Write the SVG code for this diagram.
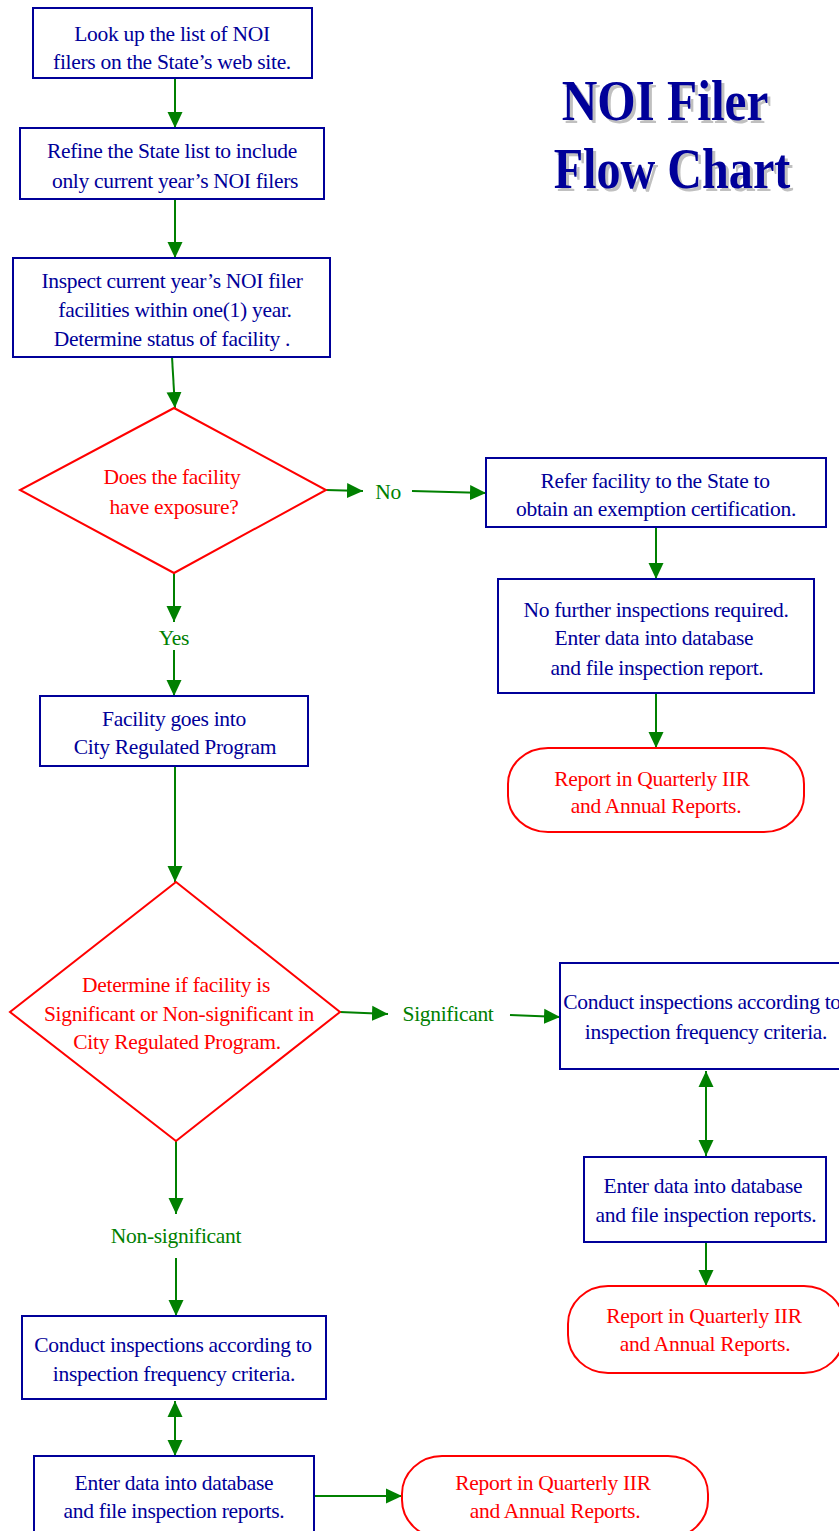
<svg xmlns="http://www.w3.org/2000/svg" width="839" height="1531" viewBox="0 0 839 1531">
  <style>
    .box { fill: #ffffff; stroke: #000099; stroke-width: 2; }
    .dec { fill: #ffffff; stroke: #ff0000; stroke-width: 2; }
    .rep { fill: #ffffff; stroke: #ff0000; stroke-width: 2; }
    .t { font-family: "Liberation Serif", "Times New Roman", serif; font-size: 21.5px; letter-spacing: -0.3px; text-anchor: middle; }
    .blue { fill: #000099; }
    .red { fill: #ff0000; }
    .green { fill: #008000; }
    .link { stroke: #008000; stroke-width: 2; fill: none; marker-end: url(#head); }
    .both { marker-start: url(#head); }
    .title { font-family: "Liberation Serif", "Times New Roman", serif; font-weight: bold; font-size: 58px; text-anchor: middle; }
  </style>
  <defs>
    <marker id="head" markerUnits="userSpaceOnUse" markerWidth="16" markerHeight="16" refX="16" refY="8" orient="auto-start-reverse" viewBox="0 0 16 16">
      <path d="M0,0.5 L16,8 L0,15.5 z" fill="#008000"/>
    </marker>
  </defs>
  <rect width="839" height="1531" fill="#ffffff"/>

  <!-- title: condensed bold serif with a grey drop shadow -->
  <g id="title">
    <g transform="translate(668,123) scale(0.85,1)">
      <text class="title" x="0" y="0" fill="#c0c0c0">NOI Filer</text>
    </g>
    <g transform="translate(675,191) scale(0.83,1)">
      <text class="title" x="0" y="0" fill="#c0c0c0">Flow Chart</text>
    </g>
    <g transform="translate(665,120) scale(0.85,1)">
      <text class="title" x="0" y="0" fill="#000099">NOI Filer</text>
    </g>
    <g transform="translate(672,188) scale(0.83,1)">
      <text class="title" x="0" y="0" fill="#000099">Flow Chart</text>
    </g>
  </g>

  <!-- connectors -->
  <g id="connectors">
    <line class="link" x1="175" y1="78" x2="175" y2="128"/>
    <line class="link" x1="175" y1="199" x2="175" y2="258"/>
    <line class="link" x1="172" y1="357" x2="175" y2="408"/>
    <line class="link" x1="326" y1="490" x2="363" y2="491"/>
    <line class="link" x1="412" y1="491" x2="486" y2="493"/>
    <line class="link" x1="656" y1="527" x2="656" y2="579"/>
    <line class="link" x1="656" y1="693" x2="656" y2="748"/>
    <line class="link" x1="174" y1="573" x2="174" y2="622"/>
    <line class="link" x1="174" y1="650" x2="174" y2="696"/>
    <line class="link" x1="175" y1="766" x2="175" y2="882"/>
    <line class="link" x1="340" y1="1012" x2="388" y2="1014"/>
    <line class="link" x1="510" y1="1015" x2="560" y2="1017"/>
    <line class="link both" x1="706" y1="1071" x2="706" y2="1156"/>
    <line class="link" x1="706" y1="1242" x2="706" y2="1286"/>
    <line class="link" x1="176" y1="1141" x2="176" y2="1214"/>
    <line class="link" x1="176" y1="1258" x2="176" y2="1316"/>
    <line class="link both" x1="175" y1="1401" x2="175" y2="1456"/>
    <line class="link" x1="314" y1="1496" x2="402" y2="1496"/>
    <text class="t green" x="388" y="499">No</text>
    <text class="t green" x="174" y="645">Yes</text>
    <text class="t green" x="448" y="1021">Significant</text>
    <text class="t green" x="176" y="1243">Non-significant</text>
  </g>

  <g id="lookup">
    <rect class="box" x="33" y="8" width="279" height="70"/>
    <text class="t blue" x="172" y="41">Look up the list of  NOI</text>
    <text class="t blue" x="172" y="69">filers on the State’s  web site.</text>
  </g>

  <g id="refine">
    <rect class="box" x="20" y="128" width="304" height="71"/>
    <text class="t blue" x="172" y="158">Refine the State list to include</text>
    <text class="t blue" x="175" y="188">only current year’s NOI filers</text>
  </g>

  <g id="inspect">
    <rect class="box" x="13" y="258" width="317" height="99"/>
    <text class="t blue" x="172" y="288">Inspect current year’s NOI  filer</text>
    <text class="t blue" x="175" y="317">facilities within one(1) year.</text>
    <text class="t blue" x="172" y="346">Determine status of facility .</text>
  </g>

  <g id="exposure">
    <polygon class="dec" points="174,408 326,490 174,573 20,490"/>
    <text class="t red" x="172" y="484">Does the facility</text>
    <text class="t red" x="174" y="514">have exposure?</text>
  </g>

  <g id="refer">
    <rect class="box" x="486" y="458" width="340" height="69"/>
    <text class="t blue" x="655" y="488">Refer  facility  to the  State to</text>
    <text class="t blue" x="656" y="516">obtain an exemption certification.</text>
  </g>

  <g id="nofurther">
    <rect class="box" x="498" y="579" width="316" height="114"/>
    <text class="t blue" x="656" y="617">No further inspections  required.</text>
    <text class="t blue" x="654" y="645">Enter data into database</text>
    <text class="t blue" x="657" y="675">and file inspection report.</text>
  </g>

  <g id="report1">
    <rect class="rep" x="508" y="748" width="296" height="84" rx="40" ry="36"/>
    <text class="t red" x="652" y="786">Report in Quarterly IIR</text>
    <text class="t red" x="656" y="813">and Annual Reports.</text>
  </g>

  <g id="regulated">
    <rect class="box" x="40" y="696" width="268" height="70"/>
    <text class="t blue" x="174" y="726">Facility goes into</text>
    <text class="t blue" x="175" y="754">City Regulated Program</text>
  </g>

  <g id="significance">
    <polygon class="dec" points="176,882 340,1012 176,1141 10,1012"/>
    <text class="t red" x="176" y="992">Determine if facility is</text>
    <text class="t red" x="179" y="1021">Significant or Non-significant in</text>
    <text class="t red" x="177" y="1049">City Regulated Program.</text>
  </g>

  <g id="conduct-sig">
    <rect class="box" x="560" y="963" width="290" height="106"/>
    <text class="t blue" x="702" y="1009">Conduct inspections according to</text>
    <text class="t blue" x="706" y="1039">inspection frequency criteria.</text>
  </g>

  <g id="enter-sig">
    <rect class="box" x="584" y="1157" width="242" height="85"/>
    <text class="t blue" x="703" y="1193">Enter data into database</text>
    <text class="t blue" x="706" y="1222">and file inspection reports.</text>
  </g>

  <g id="report2">
    <rect class="rep" x="568" y="1286" width="276" height="87" rx="40" ry="38"/>
    <text class="t red" x="704" y="1323">Report in Quarterly IIR</text>
    <text class="t red" x="705" y="1351">and Annual Reports.</text>
  </g>

  <g id="conduct-non">
    <rect class="box" x="22" y="1316" width="304" height="83"/>
    <text class="t blue" x="173" y="1352">Conduct inspections according to</text>
    <text class="t blue" x="174" y="1381">inspection frequency criteria.</text>
  </g>

  <g id="enter-non">
    <rect class="box" x="34" y="1456" width="280" height="90"/>
    <text class="t blue" x="174" y="1490">Enter data into database</text>
    <text class="t blue" x="174" y="1518">and file inspection reports.</text>
  </g>

  <g id="report3">
    <rect class="rep" x="402" y="1456" width="306" height="82" rx="40" ry="38"/>
    <text class="t red" x="553" y="1490">Report in Quarterly IIR</text>
    <text class="t red" x="555" y="1518">and Annual Reports.</text>
  </g>
</svg>
